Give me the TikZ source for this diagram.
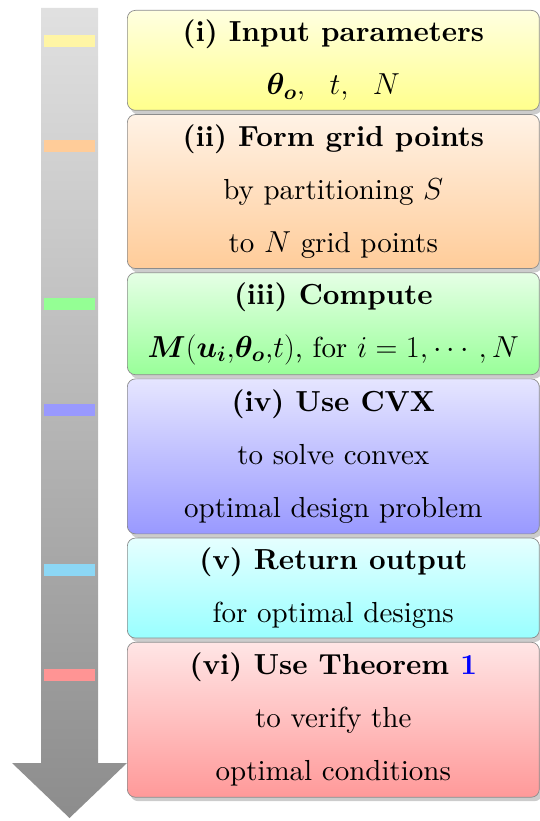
\documentclass[tikz,border=0pt]{standalone}
\usepackage{amsmath,amssymb}
\usepackage{fontspec}
\setmainfont{lmroman10-regular.otf}[
  BoldFont=lmroman10-bold.otf,
  ItalicFont=lmroman10-italic.otf,
  BoldItalicFont=lmroman10-bolditalic.otf]
\usepackage{tikz}
\usetikzlibrary{positioning,shadows}

\definecolor{bargiallo}{RGB}{255,245,165}
\definecolor{barciano}{RGB}{140,215,245}

\begin{document}
\begin{tikzpicture}[
    x=0.02cm, y=-0.02cm,
    passo/.style={draw=black!45, rounded corners=0.16cm, minimum width=8.24cm,
      inner ysep=0pt, align=center, font=\fontsize{16.5}{30.2}\selectfont,
      drop shadow={shadow xshift=0.06cm, shadow yshift=-0.08cm, opacity=0.4}},
    barra/.style={minimum width=1.02cm, minimum height=0.24cm, inner sep=0pt}
  ]
  \useasboundingbox (0,0) rectangle (539,821);

  % freccia
  \shade[top color=black!12, bottom color=black!45]
    (41,8) -- (98,8) -- (98,763) -- (127,763) -- (69.5,818)
    -- (12,763) -- (41,763) -- cycle;

  % barre colorate
  \node[barra, fill=bargiallo] (bi) at (69.5,41) {};
  \node[barra, fill=orange!40] (bii) at (69.5,146) {};
  \node[barra, fill=green!42] (biii) at (69.5,304) {};
  \node[barra, fill=blue!40] (biv) at (69.5,410) {};
  \node[barra, fill=barciano] (bv) at (69.5,570) {};
  \node[barra, fill=red!42] (bvi) at (69.5,675) {};

  % nodi
  \node[passo, anchor=north west, minimum height=2cm,
    top color=yellow!12, bottom color=yellow!45] (inp) at (127,10)
    {\textbf{(i) Input parameters}\\
     $\boldsymbol{\theta_o},\ \ t,\ \ N$};
  \node[passo, below=0.07cm of inp, minimum height=3.08cm,
    top color=orange!10, bottom color=orange!40] (grid)
    {\textbf{(ii) Form grid points}\\
     by partitioning $S$\\
     to $N$ grid points};
  \node[passo, below=0.07cm of grid, minimum height=2.04cm,
    top color=green!10, bottom color=green!40] (comp)
    {\textbf{(iii) Compute}\\
     $\boldsymbol{M}(\boldsymbol{u_i}{,}\boldsymbol{\theta_o}{,}t)$, for $i=1,\cdots,N$};
  \node[passo, below=0.07cm of comp, minimum height=3.1cm,
    top color=blue!10, bottom color=blue!40] (cvx)
    {\textbf{(iv) Use CVX}\\
     to solve convex\\
     optimal design problem};
  \node[passo, below=0.07cm of cvx, minimum height=2cm,
    top color=cyan!10, bottom color=cyan!40] (out)
    {\textbf{(v) Return output}\\
     for optimal designs};
  \node[passo, below=0.07cm of out, minimum height=3.1cm,
    top color=red!10, bottom color=red!40] (teo)
    {\textbf{(vi) Use Theorem \textcolor{blue}{1}}\\
     to verify the\\
     optimal conditions};

\end{tikzpicture}
\end{document}
